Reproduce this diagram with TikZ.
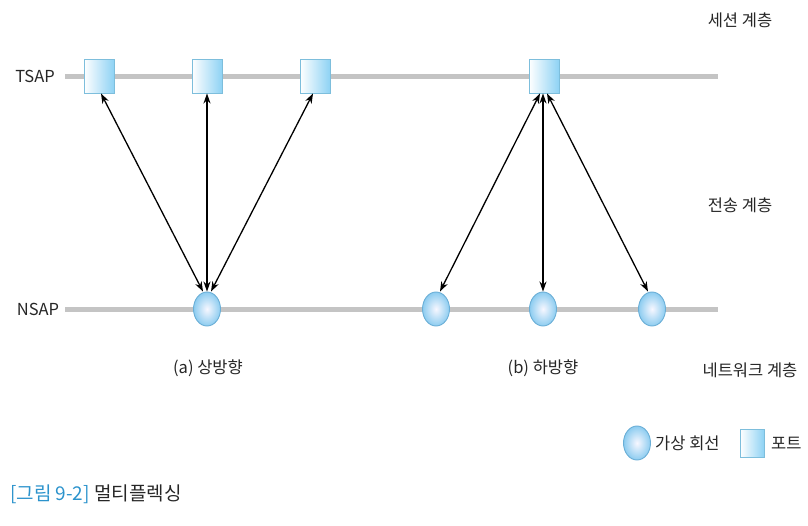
\documentclass[tikz,border=0pt]{standalone}
\usepackage{fontspec}
\setmainfont{Noto Sans CJK KR}
\usetikzlibrary{arrows.meta,shapes.geometric}
\definecolor{linegray}{HTML}{C4C4C4}
\definecolor{sqblue}{HTML}{8ED2F4}
\definecolor{sqedge}{HTML}{7DBEDC}
\definecolor{elblue}{HTML}{8CCCF0}
\definecolor{eledge}{HTML}{6AAED6}
\definecolor{capblue}{HTML}{2C93CC}
\tikzset{
  port/.style={draw=sqedge, line width=0.9pt, minimum width=30pt, minimum height=34pt, inner sep=0pt,
    left color=white, right color=sqblue},
  vc/.style={ellipse, draw=eledge, line width=0.9pt, minimum width=27pt, minimum height=34pt, inner sep=0pt,
    inner color=blue!3!white, outer color=elblue},
  layerline/.style={linegray, line width=5pt},
  link/.style={{Stealth[length=10pt,width=7pt]}-{Stealth[length=10pt,width=7pt]}, line width=1.3pt, black},
  lbl/.style={font=\fontsize{16.5}{19}\selectfont, text=black!85, inner sep=0pt},
}
\begin{document}
\begin{tikzpicture}[x=1pt,y=-1pt]
\useasboundingbox (0,0) rectangle (808,525);
% layer lines
\coordinate (t0) at (65,76); \coordinate (t1) at (718,76);
\coordinate (n0) at (65,309); \coordinate (n1) at (718,309);
\draw[layerline] (t0) -- (t1);
\draw[layerline] (n0) -- (n1);
% labels
\node[lbl] (tsap) at (35,76) {TSAP};
\node[lbl] (nsap) at (38,309) {NSAP};
\node[lbl] (ses) at (740,20) {세션 계층};
\node[lbl] (trn) at (740,205) {전송 계층};
\node[lbl] (net) at (750,370) {네트워크 계층};
\node[lbl] (la) at (208,368) {(a) 상방향};
\node[lbl] (lb) at (543,368) {(b) 하방향};
% ports
\node[port] (p1) at (99,76) {};
\node[port] (p2) at (207,76) {};
\node[port] (p3) at (315,76) {};
\node[port] (p4) at (544,76) {};
% virtual circuits
\node[vc] (v1) at (207,309) {};
\node[vc] (v2) at (436,309) {};
\node[vc] (v3) at (543,309) {};
\node[vc] (v4) at (652,309) {};
% connectors
\draw[link] ([xshift=2pt]p1.south) -- ([xshift=-4pt]v1.north);
\draw[link] (p2.south) -- (v1.north);
\draw[link] ([xshift=-2pt]p3.south) -- ([xshift=4pt]v1.north);
\draw[link] ([xshift=-4pt]p4.south) -- ([xshift=4pt]v2.north);
\draw[link] ([xshift=-1pt]p4.south) -- (v3.north);
\draw[link] ([xshift=3pt]p4.south) -- ([xshift=-4pt]v4.north);
% legend
\node[vc] (lgv) at (637,443) {};
\node[lbl, anchor=west] (lgvt) at (655,443) {가상 회선};
\node[port, minimum width=24pt, minimum height=28pt] (lgp) at (752,443) {};
\node[lbl, anchor=west] (lgpt) at (771,443) {포트};
% caption
\node[lbl, anchor=west, font=\fontsize{19}{22}\selectfont] (cap) at (10,494) {\textcolor{capblue}{[그림 9-2]} 멀티플렉싱};
\end{tikzpicture}
\end{document}
